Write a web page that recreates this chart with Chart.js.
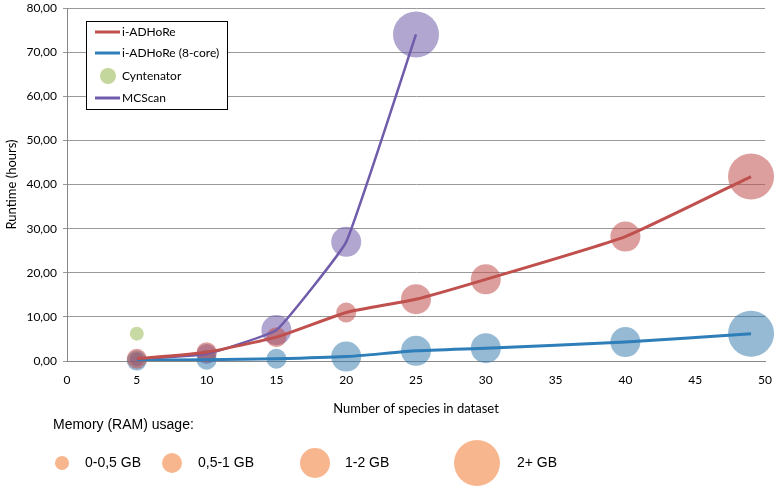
<!DOCTYPE html>
<html>
<head>
<meta charset="utf-8">
<script src="https://cdn.jsdelivr.net/npm/chart.js@4"></script>
<style>
  html, body { margin: 0; padding: 0; background: #fff; }
  #wrap { width: 777px; height: 489px; position: relative; }
</style>
</head>
<body>
<div id="wrap"><canvas id="myChart"></canvas></div>
<script>
// data
const species = [5, 10, 15, 20, 25, 30, 40, 49];
const iadhoreHours = [0.5, 2.0, 5.4, 11.0, 14.0, 18.5, 28.2, 41.8];
const iadhore8Hours = [0.1, 0.3, 0.5, 1.0, 2.3, 2.9, 4.3, 6.2];
const mcscanSpecies = [5, 10, 15, 20, 25];
const mcscanHours = [0.4, 1.6, 7.0, 27.0, 74.0];
const cyntenatorSpecies = [5];
const cyntenatorHours = [6.2];

// memory class per point: 0 = 0-0,5 GB, 1 = 0,5-1 GB, 2 = 1-2 GB, 3 = 2+ GB
const iadhoreMem = [1, 1, 1, 1, 2, 2, 2, 3];
const iadhore8Mem = [1, 1, 1, 2, 2, 2, 2, 3];
const mcscanMem = [0, 1, 2, 2, 3];
const cyntenatorMem = [0];

const memLabels = ['0-0,5 GB', '0,5-1 GB', '1-2 GB', '2+ GB'];
const yTicks = [0, 10, 20, 30, 40, 50, 60, 70, 80];

const memRadius = [7, 10, 15, 23];

const RED = 'rgb(192,80,77)';
const BLUE = 'rgb(46,126,185)';
const PURPLE = 'rgb(112,92,170)';

function pts(xs, ys) {
  return xs.map((x, i) => ({x: x, y: ys[i]}));
}
function bubbles(xs, ys, mem) {
  return xs.map((x, i) => ({x: x, y: ys[i], r: memRadius[mem[i]]}));
}

const tickFont = {family: "Lato, 'Open Sans', sans-serif", size: 12};
const titleFont = {family: "Lato, 'Open Sans', sans-serif", size: 13};

//legend box inside plot + memory legend below
const legends = {
  id: 'legends',
  afterDatasetsDraw: chart => {
    const c = chart.ctx;
    c.save();
    // series legend
    c.fillStyle = '#fff';
    c.fillRect(86, 21, 141, 88);
    c.strokeStyle = '#000';
    c.lineWidth = 1;
    c.strokeRect(86.5, 21.5, 141, 88);
    const rows = [
      {label: 'i-ADHoRe', color: RED, kind: 'line', y: 32},
      {label: 'i-ADHoRe (8-core)', color: BLUE, kind: 'line', y: 53},
      {label: 'Cyntenator', color: 'rgb(195,214,155)', kind: 'dot', y: 76},
      {label: 'MCScan', color: PURPLE, kind: 'line', y: 98}
    ];
    c.font = "12px Lato, 'Open Sans', sans-serif";
    c.textBaseline = 'middle';
    rows.forEach(r => {
      if (r.kind === 'line') {
        c.beginPath();
        c.moveTo(95, r.y);
        c.lineTo(120, r.y);
        c.strokeStyle = r.color;
        c.lineWidth = 3;
        c.stroke();
      } else {
        c.beginPath();
        c.arc(108, r.y, 8, 0, Math.PI * 2);
        c.fillStyle = r.color;
        c.fill();
      }
      c.fillStyle = '#000';
      c.fillText(r.label, 122, r.y);
    });

    // memory legend
    c.font = "14px 'Liberation Sans', Arial, sans-serif";
    c.fillStyle = '#000';
    c.fillText('Memory (RAM) usage:', 53, 425);
    const mx = [62, 172, 315, 477];
    const tx = [85, 198, 345, 517];
    memLabels.forEach((m, i) => {
      c.beginPath();
      c.arc(mx[i], 463, memRadius[i], 0, Math.PI * 2);
      c.fillStyle = 'rgb(248,182,142)';
      c.fill();
      c.fillStyle = '#000';
      c.fillText(m, tx[i], 463);
    });
    c.restore();
  }
};

const data = {
  datasets: [
    {
      type: 'line', label: 'i-ADHoRe', data: pts(species, iadhoreHours),
      borderColor: RED, borderWidth: 3, pointRadius: 0, tension: 0.15, order: 0
    },
    {
      type: 'line', label: 'i-ADHoRe (8-core)', data: pts(species, iadhore8Hours),
      borderColor: BLUE, borderWidth: 3, pointRadius: 0, tension: 0.15, order: 0
    },
    {
      type: 'line', label: 'MCScan', data: pts(mcscanSpecies, mcscanHours),
      borderColor: PURPLE, borderWidth: 2.5, pointRadius: 0, tension: 0.1, order: 0
    },
    {
      label: 'i-ADHoRe mem', data: bubbles(species, iadhoreHours, iadhoreMem),
      backgroundColor: 'rgba(192,80,77,0.55)', borderWidth: 0, order: 1, clip: false
    },
    {
      label: 'i-ADHoRe (8-core) mem', data: bubbles(species, iadhore8Hours, iadhore8Mem),
      backgroundColor: 'rgba(46,117,170,0.5)', borderWidth: 0, order: 1, clip: false
    },
    {
      label: 'MCScan mem', data: bubbles(mcscanSpecies, mcscanHours, mcscanMem),
      backgroundColor: 'rgba(112,92,170,0.55)', borderWidth: 0, order: 1, clip: false
    },
    {
      label: 'Cyntenator', data: bubbles(cyntenatorSpecies, cyntenatorHours, cyntenatorMem),
      backgroundColor: 'rgba(155,187,89,0.55)', borderWidth: 0, order: 1, clip: false
    }
  ]
};

const config = {
  type: 'bubble',
  data: data,
  options: {
    responsive: true,
    maintainAspectRatio: false,
    animation: false,
    events: [],
    layout: {autoPadding: false, padding: {left: 0, top: 8, right: 12, bottom: 68}},
    scales: {
      x: {
        type: 'linear', min: 0, max: 50,
        afterFit: s => { s.height = 60; s.paddingLeft = 0; s.paddingRight = 0; },
        ticks: {stepSize: 5, color: '#000', font: tickFont, padding: 8},
        grid: {display: false, drawOnChartArea: false, drawTicks: true, tickLength: 4, color: '#888'},
        border: {color: '#888'},
        title: {display: true, text: 'Number of species in dataset', color: '#000', font: titleFont, padding: {top: 10}}
      },
      y: {
        min: 0, max: 80,
        afterFit: s => { s.width = 67; s.paddingTop = 0; s.paddingBottom = 0; },
        afterBuildTicks: s => { s.ticks = yTicks.map(v => ({value: v})); },
        ticks: {
          color: '#000', font: tickFont, padding: 6,
          callback: v => v.toFixed(2).replace('.', ',')
        },
        grid: {color: '#999', tickLength: 4, lineWidth: 1},
        border: {color: '#888'},
        title: {display: true, text: 'Runtime (hours)', color: '#000', font: titleFont, padding: {bottom: 0}}
      }
    },
    plugins: {
      legend: {display: false},
      tooltip: {enabled: false}
    }
  },
  plugins: [legends]
};

const myChart = new Chart(document.getElementById('myChart'), config);
</script>
</body>
</html>
